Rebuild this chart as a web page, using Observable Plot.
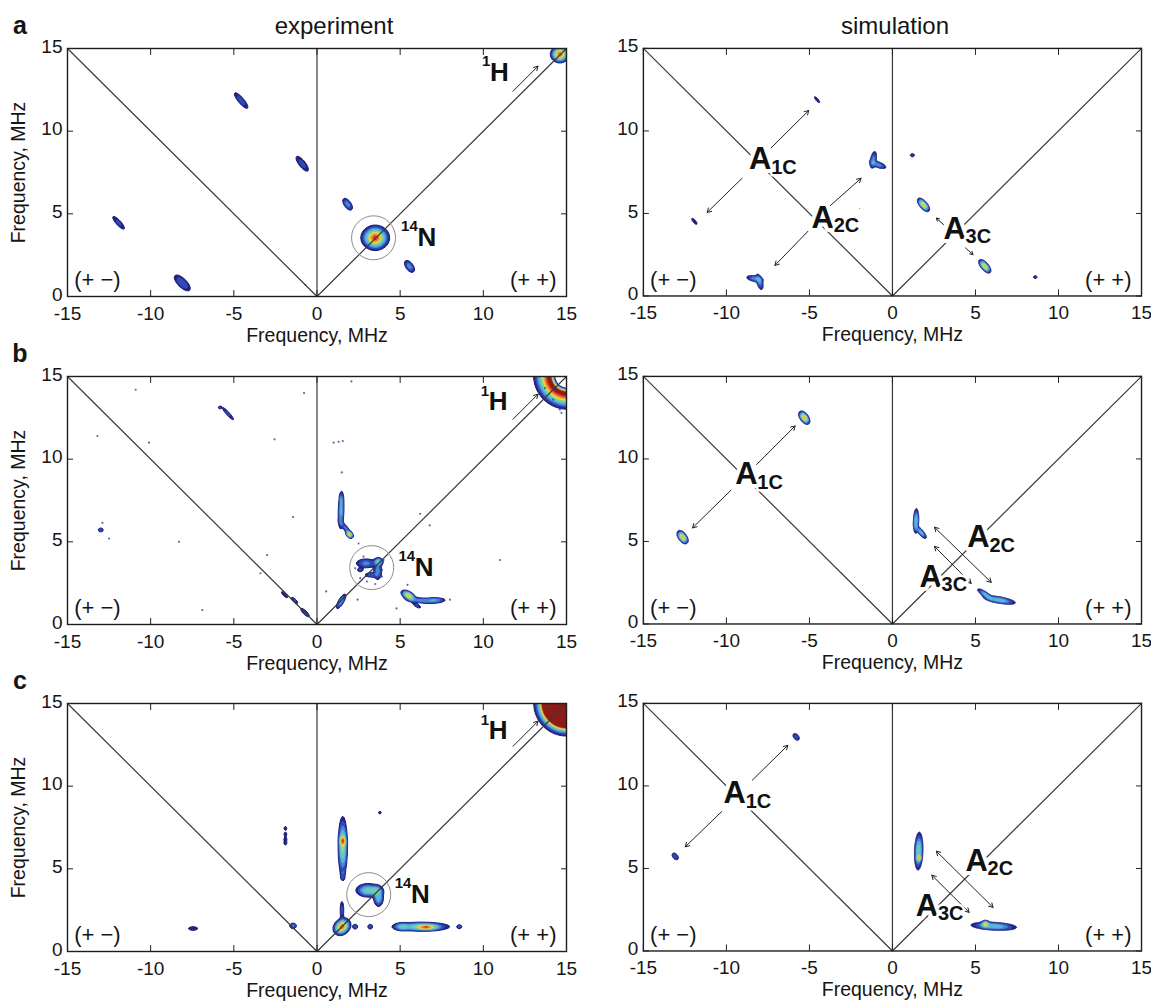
<!DOCTYPE html>
<html>
<head>
<meta charset="utf-8">
<script src="https://cdn.jsdelivr.net/npm/d3@7"></script>
<script src="https://cdn.jsdelivr.net/npm/@observablehq/plot@0.6"></script>
<style>
  body { margin: 0; background: #fff; font-family: "Liberation Sans", Arial, Helvetica, sans-serif; }
  #fig { position: relative; width: 1151px; height: 1001px; overflow: hidden; background: #fff; }
  .cell { position: absolute; }
  .cell svg { overflow: visible; }
  .lbl { position: absolute; transform: translate(-50%, -50%); line-height: 1; color: #151515; white-space: nowrap; }
</style>
</head>
<body>
<div id="fig"></div>
<script>
// ---------------- data ----------------
const panelLetters = ["a", "b", "c"];
const columnTitles = ["experiment", "simulation"];
const axisLabel = "Frequency, MHz";
const xTicks = [-15, -10, -5, 0, 5, 10, 15];
const yTicks = [0, 5, 10, 15];
const quadrantLabels = [{x: -13.2, y: 1.0, text: "(+ −)"}, {x: 13.0, y: 1.0, text: "(+ +)"}];
const diagonal = [{x: -15, y: 15}, {x: 0, y: 0}, {x: 15, y: 15}];
const contourLevels = [0.05, 0.1, 0.17, 0.25, 0.35, 0.45, 0.55, 0.65, 0.75, 0.85, 0.95];
const jetColors = ["#22237f", "#2f4bb8", "#4a86d2", "#58b6dc", "#66cbbd", "#9bd27a", "#dcdf4a", "#f2b53c", "#ee7a2c", "#d63a22", "#8c1a18"];

// peaks: [x centre, y centre, width along, width across, angle deg, amplitude, ring radius]
const aExpPeaks = [
  [-4.56, 11.85, 0.42, 0.12, -50, 0.14],
  [-0.89, 8.03, 0.40, 0.14, -52, 0.13],
  [-11.93, 4.46, 0.38, 0.11, -48, 0.12],
  [-8.1, 0.82, 0.40, 0.17, -45, 0.17],
  [-0.7, 0.72, 0.10, 0.05, -45, 0.06],
  [1.84, 5.58, 0.24, 0.12, -55, 0.22],
  [5.56, 1.82, 0.24, 0.13, -55, 0.22],
  [3.5, 3.55, 0.36, 0.32, 0, 0.9],
  [14.6, 14.65, 0.24, 0.22, 0, 0.85]
];
const aSimPeaks = [
  [-4.54, 11.89, 0.2, 0.06, -50, 0.1],
  [-11.93, 4.52, 0.2, 0.07, -50, 0.1],
  [-1.15, 8.25, 0.3, 0.1, 80, 0.22],
  [-0.85, 7.95, 0.28, 0.1, -20, 0.22],
  [-8.3, 1.05, 0.28, 0.1, -10, 0.22],
  [-8.0, 0.85, 0.28, 0.1, -75, 0.22],
  [-2.0, 5.3, 0.04, 0.04, 0, 0.06],
  [-5.3, 2.0, 0.04, 0.04, 0, 0.06],
  [1.2, 8.53, 0.1, 0.08, 0, 0.11],
  [1.87, 5.52, 0.22, 0.1, -50, 0.7],
  [5.56, 1.8, 0.22, 0.1, -50, 0.7],
  [8.6, 1.14, 0.09, 0.07, 0, 0.11]
];
const bExpPeaks = [
  [-5.35, 12.75, 0.38, 0.07, -48, 0.12],
  [-5.85, 13.12, 0.06, 0.06, 0, 0.12],
  [-13.0, 5.72, 0.1, 0.08, 0, 0.15],
  [-1.95, 1.8, 0.22, 0.07, -45, 0.1],
  [-1.35, 1.45, 0.2, 0.07, -45, 0.12],
  [-0.72, 0.72, 0.25, 0.08, -45, 0.13],
  [1.45, 6.9, 0.6, 0.09, 88, 0.28],
  [1.45, 7.6, 0.2, 0.06, 90, 0.12],
  [1.7, 5.85, 0.3, 0.08, -50, 0.18],
  [1.95, 5.45, 0.12, 0.08, -50, 0.7],
  [2.95, 3.7, 0.35, 0.16, 0, 0.2],
  [3.65, 3.25, 0.32, 0.14, 90, 0.2],
  [3.7, 3.8, 0.14, 0.12, 0, 0.35],
  [3.25, 3.0, 0.25, 0.09, 0, 0.14],
  [2.6, 3.3, 0.12, 0.08, 0, 0.12],
  [1.45, 1.4, 0.28, 0.09, 60, 0.25],
  [5.5, 1.75, 0.22, 0.11, -30, 0.7],
  [6.3, 1.45, 0.55, 0.09, -5, 0.2],
  [7.1, 1.48, 0.35, 0.08, 0, 0.22],
  [6.0, 1.15, 0.2, 0.07, -30, 0.12],
  [15.05, 15.05, 0.4, 0.12, 0, 1.0, 1.05]
];
const bExpNoise = [
  [-10.9, 14.2], [-10.1, 11.0], [-13.2, 11.4], [-8.3, 5.0], [-12.5, 5.2], [-12.9, 6.15],
  [-1.44, 6.5], [-0.78, 14.0], [-2.55, 11.2], [-3.0, 4.2], [-3.4, 3.1], [-6.9, 0.87],
  [2.07, 14.7], [1.0, 11.0], [1.55, 11.1], [1.3, 11.05], [1.49, 9.2], [1.44, 7.95], [2.5, 4.9],
  [0.55, 2.0], [2.44, 1.5], [4.78, 0.97], [5.44, 2.4], [6.2, 6.7], [6.78, 6.0], [8.0, 1.5],
  [11.0, 3.9], [14.0, 14.6], [14.2, 13.6], [14.6, 13.0], [14.7, 12.8], [14.35, 14.1], [13.7, 14.3],
  [2.3, 3.4], [2.6, 2.8], [3.0, 2.6], [3.9, 2.9], [4.0, 3.9], [2.8, 4.1], [3.5, 2.45], [3.9, 3.3]
];
const bSimPeaks = [
  [-5.31, 12.5, 0.2, 0.11, -55, 0.75],
  [-12.64, 5.26, 0.2, 0.11, -55, 0.75],
  [1.42, 6.25, 0.38, 0.08, 88, 0.36],
  [1.72, 5.55, 0.25, 0.08, -50, 0.3],
  [5.6, 1.78, 0.3, 0.08, -35, 0.3],
  [6.45, 1.45, 0.5, 0.1, -10, 0.33]
];
const cExpPeaks = [
  [-7.45, 1.39, 0.26, 0.1, 0, 0.09],
  [-1.44, 1.55, 0.12, 0.1, 0, 0.2],
  [-1.9, 7.45, 0.1, 0.08, 90, 0.09],
  [-1.9, 7.1, 0.1, 0.08, 90, 0.09],
  [-1.9, 6.8, 0.1, 0.08, 90, 0.09],
  [-1.9, 6.55, 0.1, 0.08, 90, 0.09],
  [1.55, 6.35, 0.85, 0.13, 90, 0.5],
  [1.55, 6.7, 0.18, 0.1, 90, 0.45],
  [1.55, 4.75, 0.12, 0.08, 90, 0.09],
  [1.55, 4.45, 0.1, 0.08, 90, 0.09],
  [3.05, 3.7, 0.35, 0.2, 0, 0.4],
  [3.6, 3.65, 0.2, 0.18, 0, 0.3],
  [3.7, 3.2, 0.25, 0.15, 90, 0.3],
  [1.5, 1.5, 0.25, 0.2, 45, 0.85],
  [1.5, 2.5, 0.4, 0.08, 90, 0.12],
  [2.3, 1.5, 0.1, 0.1, 0, 0.14],
  [3.2, 1.5, 0.1, 0.1, 0, 0.14],
  [6.3, 1.5, 0.8, 0.13, 0, 0.45],
  [6.6, 1.47, 0.35, 0.08, 0, 0.45],
  [5.1, 1.5, 0.25, 0.12, 0, 0.25],
  [8.56, 1.5, 0.1, 0.08, 0, 0.13],
  [3.78, 8.4, 0.07, 0.07, 0, 0.1],
  [15.0, 15.0, 0.55, 0.55, 0, 30]
];
const cSimPeaks = [
  [-5.8, 12.97, 0.16, 0.1, -50, 0.15],
  [-13.08, 5.73, 0.16, 0.1, -50, 0.15],
  [1.58, 6.05, 0.55, 0.12, 88, 0.45],
  [1.6, 5.63, 0.1, 0.07, 90, 0.45],
  [6.1, 1.5, 0.7, 0.12, -3, 0.35],
  [5.6, 1.64, 0.12, 0.1, 0, 0.5]
];

const hArrow = [{x1: 11.78, y1: 12.41, x2: 13.29, y2: 13.93}];
const aSimArrows = [
  {x1: -7.3, y1: 8.98, x2: -5.04, y2: 11.24},
  {x1: -9.06, y1: 7.13, x2: -11.16, y2: 5.06},
  {x1: -3.76, y1: 5.46, x2: -1.89, y2: 7.13},
  {x1: -5.09, y1: 3.92, x2: -7.08, y2: 1.85},
  {x1: 3.08, y1: 4.32, x2: 2.64, y2: 4.72},
  {x1: 4.4, y1: 2.91, x2: 4.85, y2: 2.51}
];
const bSimArrows = [
  {x1: -8.18, y1: 9.66, x2: -5.86, y2: 12.0},
  {x1: -9.73, y1: 8.1, x2: -12.04, y2: 5.82}
];
const bSimDouble = [
  {x1: 2.53, y1: 5.86, x2: 5.95, y2: 2.52},
  {x1: 2.53, y1: 4.7, x2: 4.74, y2: 2.46}
];
const cSimArrows = [
  {x1: -8.44, y1: 10.35, x2: -6.3, y2: 12.46},
  {x1: -10.28, y1: 8.45, x2: -12.48, y2: 6.31}
];
const cSimDouble = [
  {x1: 2.64, y1: 6.05, x2: 6.06, y2: 2.64},
  {x1: 2.37, y1: 4.59, x2: 4.62, y2: 2.34}
];

const aExpIso = [{x: 6.6, y: 3.57, pre: "14", main: "N"}, {x: 10.96, y: 13.55, pre: "1", main: "H"}];
const bExpIso = [{x: 6.44, y: 3.44, pre: "14", main: "N"}, {x: 10.89, y: 13.47, pre: "1", main: "H"}];
const cExpIso = [{x: 6.22, y: 3.44, pre: "14", main: "N"}, {x: 10.89, y: 13.35, pre: "1", main: "H"}];
const aSimHyp = [{x: -7.96, y: 8.27, main: "A", sub: "1C"}, {x: -4.2, y: 4.72, main: "A", sub: "2C"}, {x: 3.74, y: 4.06, main: "A", sub: "3C"}];
const bSimHyp = [{x: -8.8, y: 9.06, main: "A", sub: "1C"}, {x: 5.18, y: 5.26, main: "A", sub: "2C"}, {x: 2.3, y: 2.86, main: "A", sub: "3C"}];
const cSimHyp = [{x: -9.5, y: 9.55, main: "A", sub: "1C"}, {x: 5.07, y: 5.45, main: "A", sub: "2C"}, {x: 2.08, y: 2.74, main: "A", sub: "3C"}];
const aExpCircle = [{x: 3.4, y: 3.55}];
const bExpCircle = [{x: 3.29, y: 3.44}];
const cExpCircle = [{x: 3.11, y: 3.44}];

const panels = [
  {row: 0, col: 0, peaks: aExpPeaks, arrows: hArrow, dbl: [], iso: aExpIso, hyp: [], circle: aExpCircle, noise: []},
  {row: 0, col: 1, peaks: aSimPeaks, arrows: aSimArrows, dbl: [], iso: [], hyp: aSimHyp, circle: [], noise: []},
  {row: 1, col: 0, peaks: bExpPeaks, arrows: hArrow, dbl: [], iso: bExpIso, hyp: [], circle: bExpCircle, noise: bExpNoise},
  {row: 1, col: 1, peaks: bSimPeaks, arrows: bSimArrows, dbl: bSimDouble, iso: [], hyp: bSimHyp, circle: [], noise: []},
  {row: 2, col: 0, peaks: cExpPeaks, arrows: hArrow, dbl: [], iso: cExpIso, hyp: [], circle: cExpCircle, noise: []},
  {row: 2, col: 1, peaks: cSimPeaks, arrows: cSimArrows, dbl: cSimDouble, iso: [], hyp: cSimHyp, circle: [], noise: []}
];

// ---------------- layout ----------------
const FONT = '"Liberation Sans", Arial, Helvetica, sans-serif';
const cellW = 576, cellH = 346;
const rowTops = [0, 328, 655];
const colLefts = [0, 576];
const M = {top: 48, right: 10, bottom: 50, left: 67};

function field(peaks) {
  const P = peaks.map(([cx, cy, s1, s2, ang, amp, r0 = 0]) => {
    const t = ang * Math.PI / 180;
    return {cx, cy, c: Math.cos(t), s: Math.sin(t), s1, s2, a1: 1 / (2 * s1 * s1), a2: 1 / (2 * s2 * s2), amp, r0};
  });
  return (x, y) => {
    let v = 0;
    for (const p of P) {
      const dx = x - p.cx, dy = y - p.cy;
      if (p.r0 > 0) {
        const r = Math.hypot(dx, dy) - p.r0;
        const w = r > 0 ? p.s1 : p.s2;
        v += p.amp * Math.exp(-0.5 * (r / w) * (r / w));
        continue;
      }
      const u = dx * p.c + dy * p.s, w = -dx * p.s + dy * p.c;
      const e = u * u * p.a1 + w * w * p.a2;
      if (e < 40) v += p.amp * Math.exp(-e);
    }
    return v;
  };
}

function makePanel(p) {
  const f = field(p.peaks);
  const segs = [...p.arrows, ...p.dbl.flatMap(d => {
    const mx = (d.x1 + d.x2) / 2, my = (d.y1 + d.y2) / 2;
    return [{x1: mx, y1: my, x2: d.x1, y2: d.y1}, {x1: mx, y1: my, x2: d.x2, y2: d.y2}];
  })];
  const noise = p.noise.map(([x, y]) => ({x, y}));
  const marks = [
    Plot.contour({value: f, x1: -15, x2: 15, y1: 0, y2: 15, thresholds: contourLevels, fill: "value", stroke: "value", strokeWidth: 1, pixelSize: 1}),
    Plot.dot(noise, {x: "x", y: "y", r: 1.1, fill: "#2e3590", fillOpacity: 0.75}),
    Plot.line(diagonal, {x: "x", y: "y", stroke: "#3a3a3a", strokeWidth: 1.2}),
    Plot.ruleX([0], {stroke: "#3a3a3a", strokeWidth: 1.2}),
    Plot.dot(p.circle, {x: "x", y: "y", r: 22, stroke: "#8c8c8c", strokeWidth: 1, fill: "none"}),
    Plot.arrow(segs, {x1: "x1", y1: "y1", x2: "x2", y2: "y2", stroke: "#222", strokeWidth: 1, headLength: 7}),
    Plot.text(quadrantLabels, {x: "x", y: "y", text: "text", fontSize: 22, fill: "#151515"}),
    Plot.text(p.iso, {x: "x", y: "y", text: "main", fontSize: 26, fontWeight: "bold", fill: "#111", stroke: "white", strokeWidth: 4}),
    Plot.text(p.iso, {x: "x", y: "y", text: "pre", fontSize: 15, fontWeight: "bold", fill: "#111", textAnchor: "end", dx: -9, dy: -11}),
    Plot.text(p.hyp, {x: "x", y: "y", text: "main", fontSize: 31, fontWeight: "bold", fill: "#111", stroke: "white", strokeWidth: 8}),
    Plot.text(p.hyp, {x: "x", y: "y", text: "sub", fontSize: 20, fontWeight: "bold", fill: "#111", textAnchor: "start", dx: 11, dy: 8, stroke: "white", strokeWidth: 5}),
    Plot.frame({stroke: "#1c1c1c", strokeWidth: 1.4}),
    Plot.axisX({ticks: xTicks, tickSize: 0, tickPadding: 10, tickFormat: d => String(d), label: null}),
    Plot.axisX({ticks: xTicks, tickSize: -6, tickFormat: () => "", label: null, stroke: "#222"}),
    Plot.axisX({anchor: "top", ticks: xTicks, tickSize: -6, tickFormat: () => "", label: null, stroke: "#222"}),
    Plot.axisY({ticks: yTicks, tickSize: 0, tickPadding: 5, dy: -2, tickFormat: d => String(d), label: null}),
    Plot.axisY({ticks: yTicks, tickSize: -6, tickFormat: () => "", label: null, stroke: "#222"}),
    Plot.axisY({anchor: "right", ticks: yTicks, tickSize: -6, tickFormat: () => "", label: null, stroke: "#222"}),
    Plot.text([axisLabel], {frameAnchor: "bottom", dy: 39, lineAnchor: "middle", textAnchor: "middle", text: d => d, fontSize: 19.5, fill: "#151515"})
  ];
  if (p.col === 0) {
    marks.push(Plot.text([axisLabel], {frameAnchor: "left", dx: -49, rotate: -90, textAnchor: "middle", lineAnchor: "middle", text: d => d, fontSize: 19.5, fill: "#151515"}));
  }
  return Plot.plot({
    width: cellW, height: cellH,
    marginTop: M.top, marginRight: M.right, marginBottom: M.bottom, marginLeft: M.left,
    x: {domain: [-15, 15]},
    y: {domain: [0, 15]},
    color: {type: "ordinal", domain: contourLevels, range: jetColors},
    style: {fontFamily: FONT, fontSize: "19px", color: "#151515", background: "transparent", overflow: "visible"},
    marks
  });
}

const fig = document.getElementById("fig");
for (const p of panels) {
  const cell = document.createElement("div");
  cell.className = "cell";
  cell.style.left = colLefts[p.col] + "px";
  cell.style.top = rowTops[p.row] + "px";
  cell.appendChild(makePanel(p));
  fig.appendChild(cell);
}
// panel letters and column titles
panelLetters.forEach((t, i) => {
  const d = document.createElement("div");
  d.className = "lbl";
  d.textContent = t;
  d.style.cssText += `left:20px;top:${rowTops[i] + 25}px;font-size:25px;font-weight:bold;`;
  fig.appendChild(d);
});
const titleX = [334, 895];
columnTitles.forEach((t, i) => {
  const d = document.createElement("div");
  d.className = "lbl";
  d.textContent = t;
  d.style.cssText += `left:${titleX[i]}px;top:26px;font-size:24px;`;
  fig.appendChild(d);
});
</script>
</body>
</html>
